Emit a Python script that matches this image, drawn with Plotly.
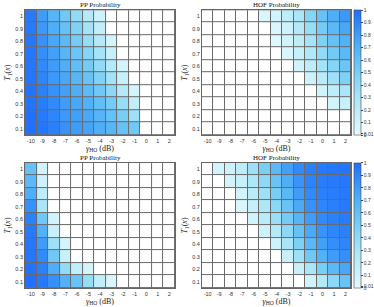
import plotly.graph_objects as go

gamma_db = [-10, -9, -8, -7, -6, -5, -4, -3, -2, -1, 0, 1, 2]
t_vals = [1.0, 0.9, 0.8, 0.7, 0.6, 0.5, 0.4, 0.3, 0.2, 0.1]
y_ticktext = ["1", "0.9", "0.8", "0.7", "0.6", "0.5", "0.4", "0.3", "0.2", "0.1"]

# rows ordered from T=1 (top) to T=0.1 (bottom)
pp_top = [
    [0.95, 0.80, 0.68, 0.55, 0.40, 0.25, 0.12, 0, 0, 0, 0, 0, 0],
    [0.95, 0.82, 0.72, 0.60, 0.47, 0.32, 0.18, 0, 0, 0, 0, 0, 0],
    [0.96, 0.85, 0.75, 0.65, 0.52, 0.38, 0.25, 0.08, 0, 0, 0, 0, 0],
    [0.96, 0.86, 0.78, 0.68, 0.57, 0.45, 0.32, 0.15, 0, 0, 0, 0, 0],
    [0.97, 0.88, 0.80, 0.72, 0.62, 0.52, 0.40, 0.25, 0.08, 0, 0, 0, 0],
    [0.97, 0.90, 0.82, 0.75, 0.67, 0.58, 0.47, 0.33, 0.15, 0, 0, 0, 0],
    [0.98, 0.92, 0.85, 0.78, 0.72, 0.64, 0.55, 0.42, 0.25, 0.08, 0, 0, 0],
    [0.98, 0.94, 0.88, 0.80, 0.75, 0.70, 0.62, 0.52, 0.38, 0.18, 0, 0, 0],
    [0.99, 0.95, 0.90, 0.82, 0.78, 0.74, 0.68, 0.60, 0.50, 0.35, 0, 0, 0],
    [0.99, 0.96, 0.92, 0.85, 0.80, 0.77, 0.72, 0.67, 0.60, 0.55, 0, 0, 0],
]
hof_top = [
    [0, 0, 0, 0, 0, 0.05, 0.10, 0.20, 0.30, 0.45, 0.60, 0.72, 0.82],
    [0, 0, 0, 0, 0, 0, 0.05, 0.12, 0.25, 0.38, 0.52, 0.65, 0.75],
    [0, 0, 0, 0, 0, 0, 0.03, 0.10, 0.20, 0.32, 0.47, 0.60, 0.70],
    [0, 0, 0, 0, 0, 0, 0, 0.06, 0.15, 0.27, 0.40, 0.53, 0.65],
    [0, 0, 0, 0, 0, 0, 0, 0, 0.10, 0.20, 0.32, 0.45, 0.57],
    [0, 0, 0, 0, 0, 0, 0, 0, 0, 0.12, 0.22, 0.35, 0.48],
    [0, 0, 0, 0, 0, 0, 0, 0, 0, 0, 0.10, 0.20, 0.30],
    [0, 0, 0, 0, 0, 0, 0, 0, 0, 0, 0, 0.08, 0.15],
    [0, 0, 0, 0, 0, 0, 0, 0, 0, 0, 0, 0, 0],
    [0, 0, 0, 0, 0, 0, 0, 0, 0, 0, 0, 0, 0],
]
pp_bottom = [
    [0.60, 0.10, 0, 0, 0, 0, 0, 0, 0, 0, 0, 0, 0],
    [0.65, 0.12, 0, 0, 0, 0, 0, 0, 0, 0, 0, 0, 0],
    [0.72, 0.20, 0, 0, 0, 0, 0, 0, 0, 0, 0, 0, 0],
    [0.85, 0.30, 0, 0, 0, 0, 0, 0, 0, 0, 0, 0, 0],
    [0.92, 0.55, 0.08, 0, 0, 0, 0, 0, 0, 0, 0, 0, 0],
    [0.95, 0.70, 0.15, 0, 0, 0, 0, 0, 0, 0, 0, 0, 0],
    [0.96, 0.80, 0.35, 0.08, 0, 0, 0, 0, 0, 0, 0, 0, 0],
    [0.97, 0.88, 0.55, 0.15, 0, 0, 0, 0, 0, 0, 0, 0, 0],
    [0.98, 0.92, 0.72, 0.40, 0.18, 0.08, 0, 0, 0, 0, 0, 0, 0],
    [0.99, 0.95, 0.85, 0.70, 0.58, 0.38, 0.18, 0.06, 0, 0, 0, 0, 0],
]
hof_bottom = [
    [0, 0.08, 0.12, 0.20, 0.35, 0.50, 0.65, 0.78, 0.88, 0.93, 0.95, 0.96, 0.97],
    [0, 0, 0.08, 0.15, 0.28, 0.42, 0.58, 0.72, 0.84, 0.91, 0.94, 0.95, 0.96],
    [0, 0, 0, 0.10, 0.22, 0.35, 0.50, 0.66, 0.80, 0.88, 0.92, 0.94, 0.95],
    [0, 0, 0, 0.06, 0.16, 0.28, 0.43, 0.58, 0.74, 0.85, 0.90, 0.93, 0.95],
    [0, 0, 0, 0, 0.10, 0.22, 0.36, 0.52, 0.68, 0.80, 0.88, 0.92, 0.94],
    [0, 0, 0, 0, 0, 0.12, 0.25, 0.42, 0.60, 0.74, 0.84, 0.90, 0.92],
    [0, 0, 0, 0, 0, 0, 0.12, 0.30, 0.48, 0.66, 0.78, 0.86, 0.90],
    [0, 0, 0, 0, 0, 0, 0, 0.15, 0.35, 0.55, 0.70, 0.80, 0.86],
    [0, 0, 0, 0, 0, 0, 0, 0, 0.15, 0.30, 0.50, 0.65, 0.75],
    [0, 0, 0, 0, 0, 0, 0, 0, 0, 0.10, 0.25, 0.42, 0.58],
]

cb_vals = [0, 0.01, 0.1, 0.2, 0.3, 0.4, 0.5, 0.6, 0.7, 0.8, 0.9, 1]
cb_text = ["0", "0.01", "0.1", "0.2", "0.3", "0.4", "0.5", "0.6", "0.7", "0.8", "0.9", "1"]

colorscale = [
    [0.0, "#ffffff"], [0.0099, "#ffffff"],
    [0.01, "#e2f9fd"], [0.3, "#aae6f7"], [0.5, "#78cff5"],
    [0.7, "#52b2f7"], [0.85, "#3691fb"], [1.0, "#1f6ffe"],
]

xdoms = [[0.067, 0.468], [0.540, 0.939]]
ydoms = [[0.560, 0.967], [0.062, 0.469]]
panels = [
    (pp_top, "PP Probability", 0, 0),
    (hof_top, "HOF Probability", 1, 0),
    (pp_bottom, "PP Probability", 0, 1),
    (hof_bottom, "HOF Probability", 1, 1),
]

fig = go.Figure()
serif = "Liberation Serif"
for i, (z, title, col, row) in enumerate(panels):
    n = i + 1
    xa = "x" if n == 1 else f"x{n}"
    ya = "y" if n == 1 else f"y{n}"
    show_cb = col == 1
    ydom = ydoms[row]
    fig.add_trace(go.Heatmap(
        x=gamma_db, y=t_vals, z=z, xaxis=xa, yaxis=ya,
        zmin=0, zmax=1, colorscale=colorscale, xgap=1, ygap=1,
        showscale=show_cb,
        colorbar=dict(
            x=0.947, xanchor="left", xpad=0, ypad=0,
            y=(ydom[0] + ydom[1]) / 2, yanchor="middle",
            len=ydom[1] - ydom[0], lenmode="fraction",
            thickness=7, outlinewidth=0.6, outlinecolor="#444",
            tickvals=cb_vals, ticktext=cb_text, ticks="outside", ticklen=2,
            tickfont=dict(size=5, family="Liberation Sans", color="#333"),
        ),
    ))
    axx = dict(
        domain=xdoms[col], anchor=ya, tickmode="array", tickvals=gamma_db,
        ticktext=[str(v) for v in gamma_db], range=[-10.5, 2.5],
        tickfont=dict(size=5.5, family="Liberation Sans", color="#333"),
        ticks="", showgrid=False, zeroline=False, automargin=False,
        showline=True, linecolor="#666", linewidth=1, mirror=True,
        title=dict(text="<i>γ</i><sub>HO</sub> (dB)", standoff=1,
                   font=dict(size=8, family=serif, color="#222")),
    )
    axy = dict(
        domain=ydom, anchor=xa, tickmode="array", tickvals=t_vals,
        ticktext=y_ticktext, range=[0.05, 1.05],
        tickfont=dict(size=5.5, family="Liberation Sans", color="#333"),
        ticks="", showgrid=False, zeroline=False, automargin=False,
        showline=True, linecolor="#666", linewidth=1, mirror=True,
        title=dict(text="<i>T</i><sub>1</sub>(<i>x</i>)", standoff=3,
                   font=dict(size=8, family=serif, color="#222")),
    )
    xkey = "xaxis" if n == 1 else f"xaxis{n}"
    ykey = "yaxis" if n == 1 else f"yaxis{n}"
    fig.update_layout({xkey: axx, ykey: axy})
    fig.add_annotation(
        text=title, x=(xdoms[col][0] + xdoms[col][1]) / 2, y=ydom[1],
        xref="paper", yref="paper", xanchor="center", yanchor="bottom",
        showarrow=False, yshift=-1,
        font=dict(size=7, family=serif, color="#111"),
    )

fig.update_layout(
    width=374, height=307,
    margin=dict(l=0, r=0, t=0, b=0, pad=0, autoexpand=False),
    paper_bgcolor="white", plot_bgcolor="#6a6a6a",
    showlegend=False,
)
fig.write_html(
    "out.html",
    config={"displayModeBar": False},
    post_script="document.body.style.margin='0';document.body.style.padding='0';document.body.style.overflow='hidden';",
)
